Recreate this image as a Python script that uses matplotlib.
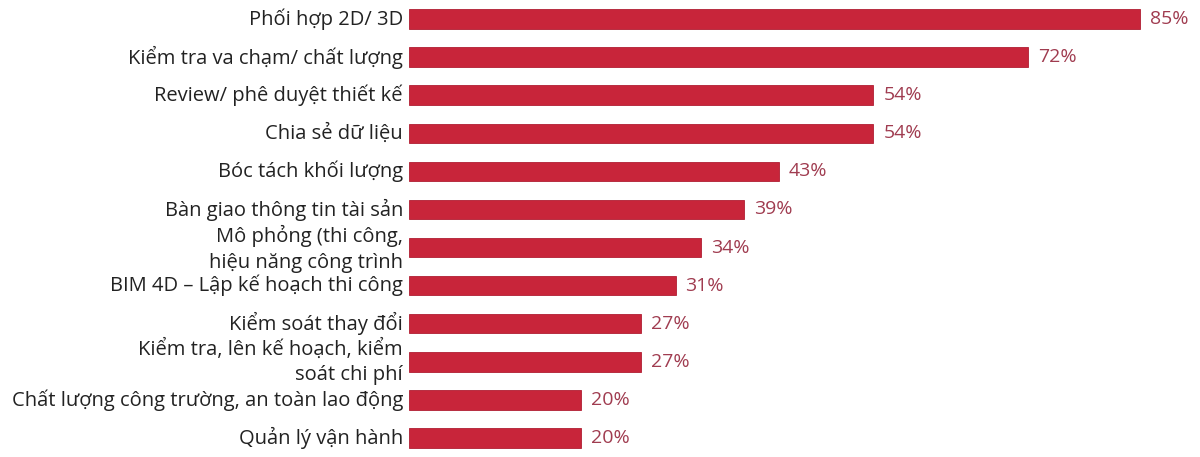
import matplotlib
matplotlib.use("Agg")
import matplotlib.pyplot as plt
from matplotlib.transforms import offset_copy

categories = [
    "Phối hợp 2D/ 3D",
    "Kiểm tra va chạm/ chất lượng",
    "Review/ phê duyệt thiết kế",
    "Chia sẻ dữ liệu",
    "Bóc tách khối lượng",
    "Bàn giao thông tin tài sản",
    "Mô phỏng (thi công,\nhiệu năng công trình",
    "BIM 4D – Lập kế hoạch thi công",
    "Kiểm soát thay đổi",
    "Kiểm tra, lên kế hoạch, kiểm\nsoát chi phí",
    "Chất lượng công trường, an toàn lao động",
    "Quản lý vận hành",
]
values = [85, 72, 54, 54, 43, 39, 34, 31, 27, 27, 20, 20]

bar_color = "#C8253A"
value_color = "#A03C50"
text_color = "#222222"
fonts = ["Open Sans", "Noto Sans", "DejaVu Sans"]

plt.rcParams["font.family"] = fonts

fig = plt.figure(figsize=(12, 4.57), dpi=100)
ax = fig.add_axes([409 / 1200, 0, 791 / 1200, 1])

y = list(range(len(values)))
ax.barh(y, values, height=0.51, color=bar_color, edgecolor="#B01E32", linewidth=0.6)
ax.set_xlim(0, 92)
ax.set_ylim(len(values) - 0.5, -0.5)
ax.axis("off")

# category labels, right aligned just left of the bars
lab_tr = offset_copy(ax.transData, fig=fig, x=-6, y=0, units="dots")
for i, name in enumerate(categories):
    dy = 0.05 if i == 6 else 0
    ax.text(0, i + dy, name, transform=lab_tr, ha="right", va="center",
            fontsize=14.5, color=text_color, linespacing=1.4)

# percentage labels after bar ends
val_tr = offset_copy(ax.transData, fig=fig, x=10, y=0, units="dots")
for i, v in enumerate(values):
    ax.text(v, i, f"{v}%", transform=val_tr, ha="left", va="center",
            fontsize=14, color=value_color)

fig.savefig("out.png", dpi=100)
